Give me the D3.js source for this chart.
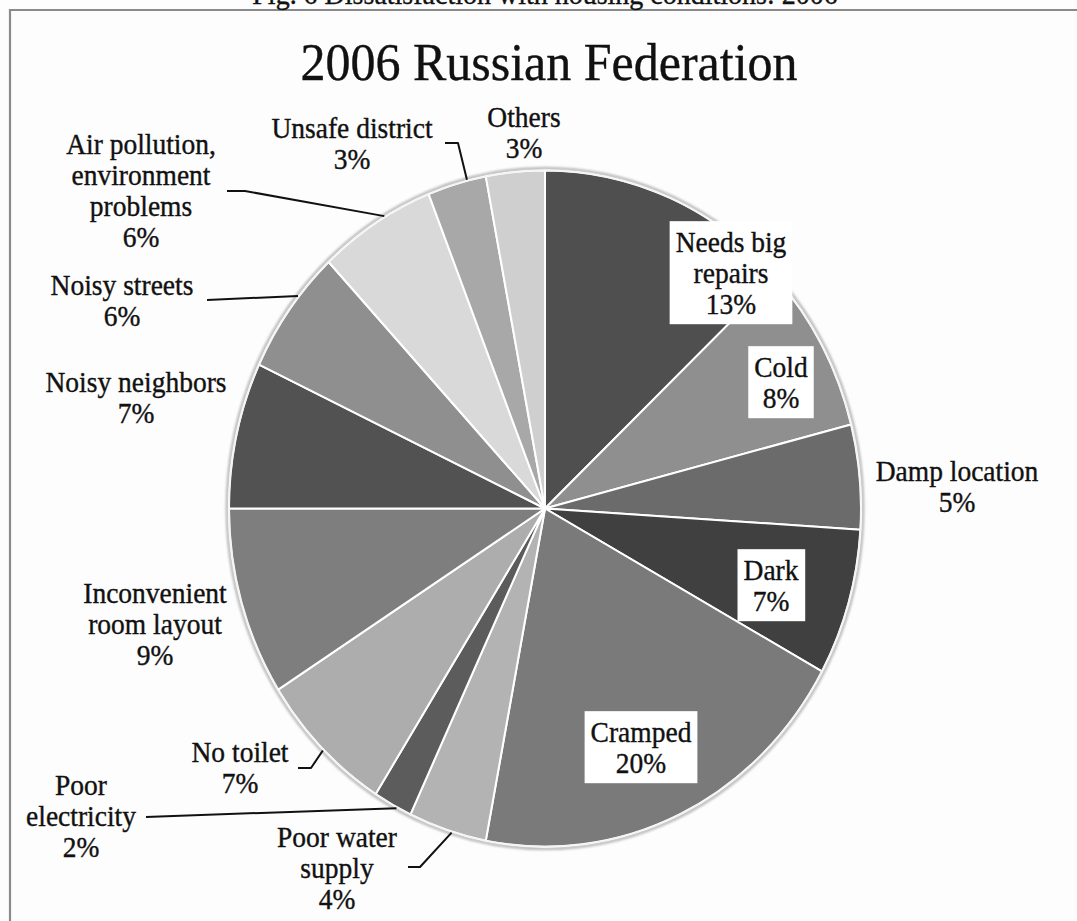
<!DOCTYPE html>
<html>
<head>
<meta charset="utf-8">
<script src="https://cdn.jsdelivr.net/npm/d3@7"></script>
<style>
  html, body { margin: 0; background: #ffffff; }
  svg { display: block; }
</style>
</head>
<body>
<svg id="chart" width="1077" height="921"></svg>
<script>
// ---- data ----
const figureCaption = "Fig. 6 Dissatisfaction with housing conditions: 2006";
const chartTitle = "2006 Russian Federation";
const categories = [
  "Needs big\nrepairs", "Cold", "Damp location", "Dark", "Cramped",
  "Poor water\nsupply", "Poor\nelectricity", "No toilet",
  "Inconvenient\nroom layout", "Noisy neighbors", "Noisy streets",
  "Air pollution,\nenvironment\nproblems", "Unsafe district", "Others"
];
const shares = [13, 8, 5, 7, 20, 4, 2, 7, 9, 7, 6, 6, 3, 3];
const shades = [
  "#4f4f4f", "#8f8f8f", "#6b6b6b", "#404040", "#7a7a7a",
  "#b3b3b3", "#5c5c5c", "#adadad", "#7e7e7e", "#525252",
  "#8f8f8f", "#d9d9d9", "#a8a8a8", "#cfcfcf"
];

// ---- label placement ----
// x: centre of the text, y: first baseline, boxed: white box inside the slice,
// leader: elbow points of the connector, at: where along the slice's arc it meets the rim
const labelLayout = [
  { x: 731, y: 252, boxed: true },
  { x: 781, y: 377, boxed: true },
  { x: 957, y: 481 },
  { x: 771, y: 580, boxed: true },
  { x: 641, y: 742, boxed: true },
  { x: 337, y: 847, leader: [[408, 867], [420, 867]], at: 0.44 },
  { x: 81,  y: 795, leader: [[146, 817]], at: 0.38 },
  { x: 240, y: 762, leader: [[298, 768], [311, 768]], at: 0.48 },
  { x: 155, y: 603 },
  { x: 136, y: 392 },
  { x: 122, y: 295, leader: [[207, 300]], at: 0.63 },
  { x: 141, y: 154, leader: [[227, 191], [245, 191]], at: 0.59 },
  { x: 352, y: 138, leader: [[445, 143], [458, 143]], at: 0.68 },
  { x: 524, y: 127 }
];

// ---- geometry ----
const W = 1077, H = 921;
const cx = 545, cy = 508.5, R = 316;
const stretch = 1.07;          // vertical stretch of the whole figure
const lineGap = 31;
const labelSize = 27.5;
const fontFamily = "'Liberation Serif', 'Times New Roman', serif";

const svg = d3.select("#chart");

svg.append("rect").attr("width", W).attr("height", H).attr("fill", "#fdfdfd");

// frame around the chart area
svg.append("path")
  .attr("d", `M${W + 5},10 L10,10 L10,${H + 5}`)
  .attr("fill", "none")
  .attr("stroke", "#8a8a8a")
  .attr("stroke-width", 2.2);

const defs = svg.append("defs");
defs.append("filter").attr("id", "soft")
  .attr("x", "-10%").attr("y", "-10%").attr("width", "120%").attr("height", "120%")
  .append("feGaussianBlur").attr("stdDeviation", 1.2);

function stretchedText(parent, x, y, str, size) {
  return parent.append("text")
    .attr("transform", `translate(${x},${y}) scale(1,${stretch})`)
    .attr("text-anchor", "middle")
    .attr("font-family", fontFamily)
    .attr("font-size", size)
    .attr("fill", "#111")
    .attr("stroke", "#111")
    .attr("stroke-width", 0.35)
    .text(str);
}

// caption above the frame (only its lower part shows)
stretchedText(svg, 545, 4, figureCaption, 28);

// chart title
stretchedText(svg, 549, 80, chartTitle, 50);

// ---- pie ----
const pie = d3.pie().sort(null).value(d => d);
const arcs = pie(shares);
const arc = d3.arc().innerRadius(0).outerRadius(R);

const pieG = svg.append("g")
  .attr("transform", `translate(${cx},${cy}) scale(1,${stretch})`);

pieG.append("circle")
  .attr("r", R + 2)
  .attr("fill", "none")
  .attr("stroke", "#bdbdbd")
  .attr("stroke-width", 3)
  .attr("filter", "url(#soft)");

pieG.selectAll("path.slice")
  .data(arcs)
  .join("path")
  .attr("class", "slice")
  .attr("d", arc)
  .attr("fill", (d, i) => shades[i])
  .attr("stroke", "#ffffff")
  .attr("stroke-width", 2)
  .attr("stroke-linejoin", "round")
  .attr("vector-effect", "non-scaling-stroke");

pieG.append("circle")
  .attr("r", R)
  .attr("fill", "none")
  .attr("stroke", "#f4f4f4")
  .attr("stroke-width", 1.5)
  .attr("vector-effect", "non-scaling-stroke");

// point on the rim of a slice, t = fraction along its arc, in page coordinates
function rimPoint(d, t, extra) {
  const a = d.startAngle + t * (d.endAngle - d.startAngle);
  const r = R + extra;
  return [cx + r * Math.sin(a), cy - stretch * r * Math.cos(a)];
}

// ---- leaders ----
const line = d3.line();
arcs.forEach((d, i) => {
  const lay = labelLayout[i];
  if (!lay.leader) return;
  const pts = lay.leader.concat([rimPoint(d, lay.at, 1)]);
  svg.append("path")
    .attr("d", line(pts))
    .attr("fill", "none")
    .attr("stroke", "#111")
    .attr("stroke-width", 2)
    .attr("stroke-linejoin", "round");
});

// ---- labels ----
arcs.forEach((d, i) => {
  const lay = labelLayout[i];
  const lines = categories[i].split("\n").concat([shares[i] + "%"]);
  const g = svg.append("g");
  lines.forEach((s, j) => stretchedText(g, lay.x, lay.y + j * lineGap, s, labelSize));
  if (lay.boxed) {
    const bb = g.node().getBBox();
    g.insert("rect", "text")
      .attr("x", bb.x - 6)
      .attr("y", bb.y - 5)
      .attr("width", bb.width + 12)
      .attr("height", bb.height + 9)
      .attr("fill", "#ffffff");
  }
});
</script>
</body>
</html>
